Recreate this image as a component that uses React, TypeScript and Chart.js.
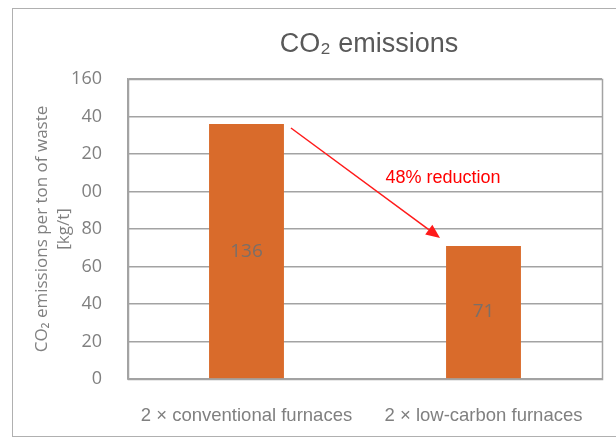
import React, { useEffect, useRef } from "react";
import { Chart, registerables } from "chart.js";

Chart.register(...registerables);

const categories = ["2 × conventional furnaces", "2 × low-carbon furnaces"];
const emissions = [136, 71];
const yTickLabels = ["0", "20", "40", "60", "80", "00", "20", "40", "160"];
const chartTitle = "CO₂ emissions";
const yAxisTitle = ["CO₂ emissions per ton of waste", "[kg/t]"];
const annotationText = "48% reduction";
const annotationValue = 107;

const GRID = "#a3a3a3";

const overlayPlugin = {
  id: "overlay",
  afterDatasetsDraw(chart: any) {
    const ctx = chart.ctx;
    const area = chart.chartArea;
    const meta = chart.getDatasetMeta(0);
    const xs = chart.scales.x;
    const ys = chart.scales.y;

    // plot border
    ctx.save();
    ctx.strokeStyle = GRID;
    ctx.lineWidth = 1.5;
    ctx.strokeRect(Math.round(area.left) + 0.5, Math.round(area.top) + 0.5, Math.round(area.right - area.left), Math.round(area.bottom - area.top));
    ctx.restore();

    // data labels
    ctx.save();
    ctx.font = "19px 'Open Sans'";
    ctx.fillStyle = "#7a6f69";
    ctx.textAlign = "center";
    ctx.textBaseline = "middle";
    meta.data.forEach((bar: any, i: number) => {
      const yc = (bar.y + bar.base) / 2;
      ctx.fillText(String(emissions[i]), bar.x, yc);
    });
    ctx.restore();

    // arrow
    const b0 = meta.data[0];
    const b1 = meta.data[1];
    const sx = b0.x + b0.width / 2 + 7;
    const sy = b0.y + 4;
    const ex = b1.x - b1.width / 2 - 6;
    const ey = b1.y - 8;
    const ang = Math.atan2(ey - sy, ex - sx);
    const head = 14;
    const hw = 6;
    const bx = ex - head * Math.cos(ang);
    const by = ey - head * Math.sin(ang);
    ctx.save();
    ctx.strokeStyle = "#ff1a1a";
    ctx.fillStyle = "#ff1a1a";
    ctx.lineWidth = 1.5;
    ctx.beginPath();
    ctx.moveTo(sx, sy);
    ctx.lineTo(bx, by);
    ctx.stroke();
    ctx.beginPath();
    ctx.moveTo(ex, ey);
    ctx.lineTo(bx + hw * Math.sin(ang), by - hw * Math.cos(ang));
    ctx.lineTo(bx - hw * Math.sin(ang), by + hw * Math.cos(ang));
    ctx.closePath();
    ctx.fill();
    ctx.restore();

    // annotation text
    const midX = (xs.getPixelForValue(0) + xs.getPixelForValue(1)) / 2;
    ctx.save();
    ctx.font = "18px 'Liberation Sans'";
    ctx.fillStyle = "#ff0000";
    ctx.textAlign = "center";
    ctx.textBaseline = "middle";
    ctx.fillText(annotationText, midX + 78, ys.getPixelForValue(annotationValue));
    ctx.restore();

    // title
    ctx.save();
    ctx.font = "27px 'Liberation Sans'";
    ctx.fillStyle = "#595959";
    ctx.textAlign = "center";
    ctx.textBaseline = "middle";
    ctx.fillText(chartTitle, (area.left + area.right) / 2 + 4, 45);
    ctx.restore();
  },
};

export default function App() {
  const ref = useRef<HTMLCanvasElement | null>(null);

  useEffect(() => {
    if (!ref.current) return;
    const chart = new Chart(ref.current, {
      type: "bar",
      data: {
        labels: categories,
        datasets: [
          {
            data: emissions,
            backgroundColor: "#d96b2b",
            borderWidth: 0,
            barPercentage: 0.316,
            categoryPercentage: 1,
          },
        ],
      },
      options: {
        responsive: false,
        animation: false,
        layout: { padding: { left: 0, top: 79, right: 14, bottom: 0 } },
        plugins: {
          legend: { display: false },
          tooltip: { enabled: false },
          title: { display: false },
        },
        scales: {
          x: {
            grid: { display: false, drawTicks: false },
            border: { display: true, color: GRID, width: 1.5 },
            ticks: {
              padding: 26,
              color: "#808080",
              font: { family: "'Liberation Sans'", size: 18.5 },
              maxRotation: 0,
            },
            afterFit: (s: any) => {
              s.height = 58;
            },
          },
          y: {
            min: 0,
            max: 160,
            ticks: {
              stepSize: 20,
              padding: 26,
              color: "#808080",
              font: { family: "'Open Sans'", size: 18 },
              callback: (_v: any, i: number) => yTickLabels[i],
            },
            grid: { color: GRID, lineWidth: 1.5, drawTicks: false },
            border: { display: true, color: GRID, width: 1.5 },
            title: {
              display: true,
              text: yAxisTitle,
              color: "#808080",
              font: { family: "'Open Sans'", size: 17, lineHeight: 22 / 17 },
              padding: { top: 31, bottom: 0 },
            },
            afterFit: (s: any) => {
              s.width = 128;
            },
          },
        },
      },
      plugins: [overlayPlugin],
    });
    return () => chart.destroy();
  }, []);

  return (
    <div style={{ position: "fixed", left: 0, top: 0, width: 616, height: 437, overflow: "hidden", background: "#fff" }}>
      <div
        style={{
          position: "absolute",
          left: 12,
          top: 8,
          width: 700,
          height: 427,
          borderLeft: "1px solid #b0b0b0",
          borderTop: "1px solid #b0b0b0",
          borderBottom: "1px solid #b0b0b0",
        }}
      />
      <canvas ref={ref} width={616} height={437} style={{ position: "absolute", left: 0, top: 0 }} />
    </div>
  );
}
